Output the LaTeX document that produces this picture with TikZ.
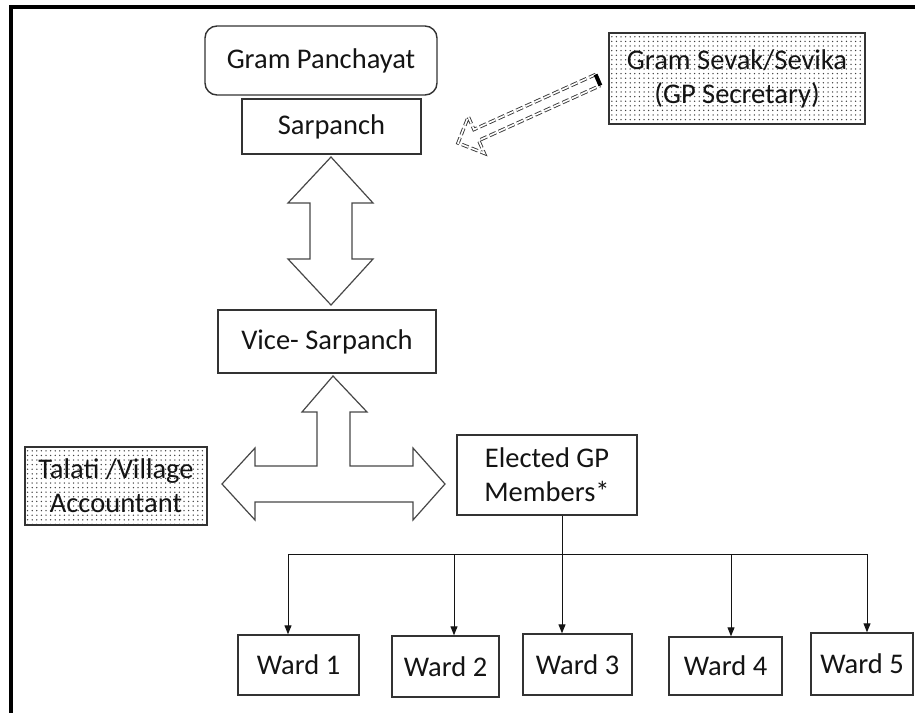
\documentclass[tikz,border=0pt]{standalone}
\usepackage{fontspec}
\setmainfont{Carlito}
\usetikzlibrary{arrows.meta,patterns.meta,calc}
\definecolor{ink}{HTML}{141414}
\definecolor{edge}{HTML}{333333}
\begin{document}
\begin{tikzpicture}[x=1pt,y=-1pt,
  every node/.style={font=\fontsize{28.5}{34}\selectfont, text=ink, inner sep=0pt, align=center},
  box/.style={draw=edge, line width=1.4pt, fill=white},
  dotbox/.style={draw=edge, line width=1.4pt,
    pattern={Dots[distance=4.6pt, radius=0.75pt]}, pattern color=black!75},
  blockarrow/.style={draw=edge!90, line width=1.2pt, fill=white, line join=miter},
  link/.style={draw=ink, line width=1pt},
  tip/.style={-{Triangle[length=9pt,width=7pt]}}
]
\useasboundingbox (0,0) rectangle (915,713);

% outer frame (top and left rules only)
\draw[line width=4pt, black] (9,7) -- (915,7);
\draw[line width=4pt, black] (11,5) -- (11,713);

% --- nodes ---
\node[box, rounded corners=12pt, minimum width=232pt, minimum height=69pt] (gp) at (321,60.5) {Gram Panchayat};
\node[box, minimum width=179pt, minimum height=55pt] (sar) at (331.5,126.5) {Sarpanch};
\node[dotbox, minimum width=256pt, minimum height=91pt] (sevak) at (737,78.5) {};
\node (sevaktxt) at (737,78.5) {Gram Sevak/Sevika\\(GP Secretary)};
\node[box, minimum width=218pt, minimum height=63pt] (vice) at (327,341.5) {Vice- Sarpanch};
\node[dotbox, minimum width=182pt, minimum height=78pt] (talati) at (116,486) {};
\node (talatitxt) at (116,486) {Talati /Village\\Accountant};
\node[box, minimum width=180pt, minimum height=80pt] (elec) at (547,475) {Elected GP\\Members*};

\node[box, minimum width=121pt, minimum height=60pt] (w1) at (298.5,665) {Ward 1};
\node[box, minimum width=107pt, minimum height=61pt] (w2) at (445.5,666.5) {Ward 2};
\node[box, minimum width=109pt, minimum height=61pt] (w3) at (577.5,664.5) {Ward 3};
\node[box, minimum width=113pt, minimum height=58pt] (w4) at (725.5,666) {Ward 4};
\node[box, minimum width=102pt, minimum height=62pt] (w5) at (862,664) {Ward 5};

% --- double block arrow between Sarpanch and Vice-Sarpanch ---
\draw[blockarrow] (331,157) -- (373,203) -- (352,203) -- (352,259) -- (373,259)
  -- (331,305) -- (288,259) -- (310,259) -- (310,203) -- (288,203) -- cycle;

% --- three-way block arrow: Vice-Sarpanch, Talati, Elected members ---
\draw[blockarrow] (333,376) -- (367,412) -- (350,412) -- (350,466) -- (413,466)
  -- (413,448) -- (445,484) -- (413,520) -- (413,502) -- (255,502) -- (255,520)
  -- (222,484) -- (255,448) -- (255,466) -- (317,466) -- (317,412) -- (302,412) -- cycle;

% --- dashed block arrow from the secretary to the Sarpanch ---
\draw[draw=ink!85, dash pattern=on 7pt off 3pt, double=white, double distance=1.6pt,
      line width=0.9pt, line join=miter]
  (595.6,74.5) -- (473.9,129.5) -- (468.3,116.7) -- (458,143) -- (484.3,153.3)
  -- (478.7,140.5) -- (600.4,85.5);
\draw[black, line width=4pt] (595.6,74.5) -- (600.4,85.5);

% --- connectors from the elected members to the wards ---
\coordinate (b1) at (288,554);
\coordinate (b2) at (454,554);
\coordinate (b3) at (562,554);
\coordinate (b4) at (731,554);
\coordinate (b5) at (867,554);
\draw[link] (elec.south -| b3) -- (b3);
\draw[link] (b1) -- (b5);
\draw[link, tip] (b1) -- (b1 |- w1.north);
\draw[link, tip] (b2) -- (b2 |- w2.north);
\draw[link, tip] (b3) -- (b3 |- w3.north);
\draw[link, tip] (b4) -- (b4 |- w4.north);
\draw[link, tip] (b5) -- (b5 |- w5.north);
\end{tikzpicture}
\end{document}
